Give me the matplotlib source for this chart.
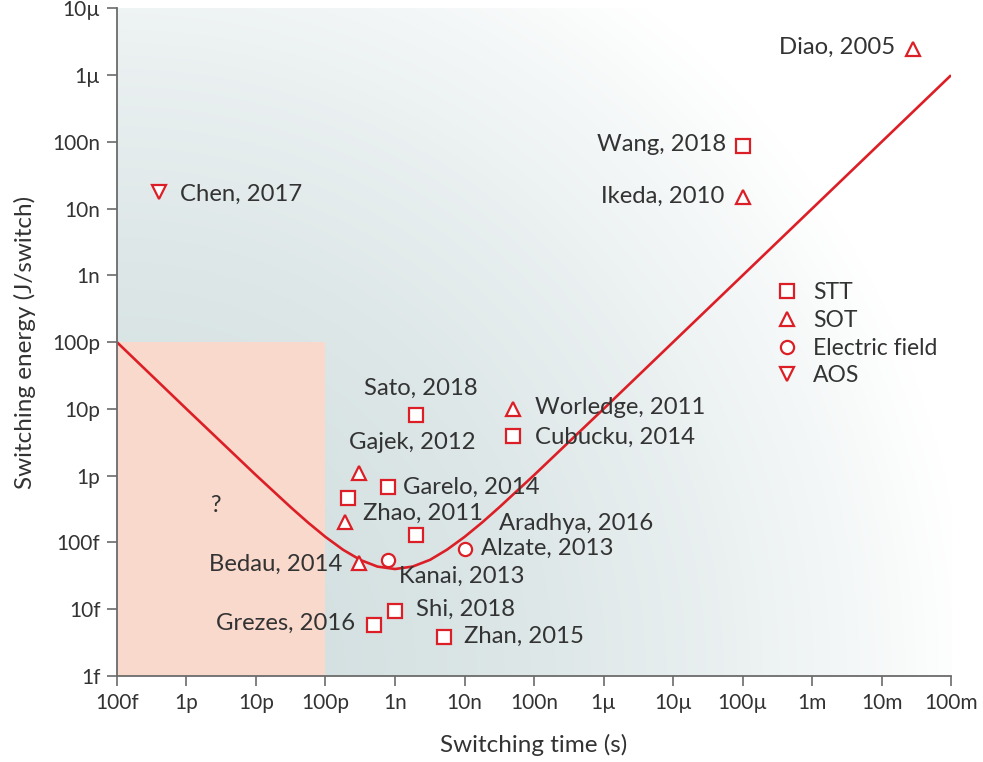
import numpy as np
import matplotlib
matplotlib.use("Agg")
import matplotlib.pyplot as plt
from matplotlib.lines import Line2D

plt.rcParams["font.family"] = ["Lato", "DejaVu Sans"]

RED = "#dc1f26"
TEXT = "#333333"
AXIS = "#6b6b6b"

# ideal switching curve (time s, energy J)
curve_t = [1e-13, 1e-12, 1e-11, 3.2e-11, 5.6e-11, 1e-10, 1.8e-10, 3.2e-10, 5.6e-10,
           1e-9, 1.8e-9, 3.2e-9, 5.6e-9, 1e-8, 1.8e-8, 3.2e-8, 1e-7, 1e-6, 1e-1]
curve_e = [1.0e-10, 1.0e-11, 1.02e-12, 3.33e-13, 1.99e-13, 1.21e-13, 7.74e-14, 5.45e-14, 4.35e-14,
           4.0e-14, 4.36e-14, 5.5e-14, 7.8e-14, 1.21e-13, 2.0e-13, 3.4e-13, 1.02e-12, 1.0e-11, 1.0e-6]

# reported devices
names = ["Wang, 2018", "Sato, 2018", "Cubucku, 2014", "Garelo, 2014", "", "Aradhya, 2016",
         "Shi, 2018", "Grezes, 2016", "Zhan, 2015",
         "Diao, 2005", "Ikeda, 2010", "Worledge, 2011", "Gajek, 2012", "Zhao, 2011", "Bedau, 2014",
         "Kanai, 2013", "Alzate, 2013",
         "Chen, 2017"]
times = [1e-4, 2e-9, 5e-8, 8e-10, 2.1e-10, 2e-9, 1e-9, 5e-10, 5e-9,
         2.8e-2, 1e-4, 5e-8, 3e-10, 1.9e-10, 3e-10,
         8e-10, 1e-8,
         4e-13]
energies = [8.7e-8, 8e-12, 4e-12, 6.8e-13, 4.7e-13, 1.3e-13, 9.3e-15, 5.8e-15, 3.8e-15,
            2.5e-6, 1.5e-8, 1e-11, 1.1e-12, 2e-13, 5e-14,
            5.5e-14, 8e-14,
            1.8e-8]
kinds = ["STT"] * 9 + ["SOT"] * 6 + ["Electric field"] * 2 + ["AOS"]

kind_order = ["STT", "SOT", "Electric field", "AOS"]
kind_marker = {"STT": "s", "SOT": "^", "Electric field": "o", "AOS": "v"}

# label placement relative to marker: (dx px, dy px, ha)
label_pos = {
    "Wang, 2018": (-16, 1, "right"), "Sato, 2018": (5, 27, "center"),
    "Cubucku, 2014": (22, -2, "left"), "Garelo, 2014": (15, 0, "left"),
    "Aradhya, 2016": (83, 11, "left"), "Shi, 2018": (21, 2, "left"),
    "Grezes, 2016": (-19, 2, "right"), "Zhan, 2015": (20, 1, "left"),
    "Diao, 2005": (-18, 1, "right"), "Ikeda, 2010": (-18, 1, "right"),
    "Worledge, 2011": (22, 1, "left"), "Gajek, 2012": (54, 30, "center"),
    "Zhao, 2011": (18, 9, "left"), "Bedau, 2014": (-16, -2, "right"),
    "Kanai, 2013": (11, -17, "left"), "Alzate, 2013": (16, 1, "left"),
    "Chen, 2017": (21, -3, "left"),
}

xticks = [1e-13, 1e-12, 1e-11, 1e-10, 1e-9, 1e-8, 1e-7, 1e-6, 1e-5, 1e-4, 1e-3, 1e-2, 1e-1]
xtick_labels = ["100f", "1p", "10p", "100p", "1n", "10n", "100n", "1µ", "10µ", "100µ", "1m", "10m", "100m"]
yticks = [1e-15, 1e-14, 1e-13, 1e-12, 1e-11, 1e-10, 1e-9, 1e-8, 1e-7, 1e-6, 1e-5]
ytick_labels = ["1f", "10f", "100f", "1p", "10p", "100p", "1n", "10n", "100n", "1µ", "10µ"]

fig = plt.figure(figsize=(9.83, 7.62), dpi=100)
rect = [0.119, 0.1129, 0.8485, 0.876]

# background gradient, darkest at the bottom-left corner
bg = fig.add_axes(rect, zorder=0)
W, H = 834, 667
xx, yy = np.meshgrid(np.arange(W), np.arange(H))
frac = np.clip(np.hypot(xx, yy) / 850.0, 0, 1) ** 1.8
dark = np.array([0xd1, 0xde, 0xdf]) / 255.0
img = dark[None, None, :] * (1 - frac[..., None]) + frac[..., None]
bg.imshow(img, origin="lower", extent=[0, 1, 0, 1], aspect="auto")
bg.axis("off")

ax = fig.add_axes(rect, zorder=1)
ax.patch.set_alpha(0)
ax.set_xscale("log")
ax.set_yscale("log")
ax.set_xlim(1e-13, 1e-1)
ax.set_ylim(1e-15, 1e-5)

ax.fill_between([1e-13, 1e-10], 1e-15, 1e-10, color="#f8d9cc", lw=0, zorder=1)
ax.plot(curve_t, curve_e, color=RED, lw=1.9, zorder=2, solid_capstyle="butt")

for k in kind_order:
    sel = [i for i, kk in enumerate(kinds) if kk == k]
    ax.plot([times[i] for i in sel], [energies[i] for i in sel], ls="none",
            marker=kind_marker[k], ms=9.5, mfc="white", mec=RED, mew=1.6, zorder=3)

for n, t, e in zip(names, times, energies):
    if not n:
        continue
    dx, dy, ha = label_pos[n]
    ax.annotate(n, (t, e), xytext=(dx, dy), textcoords="offset pixels",
                ha=ha, va="center", fontsize=17.2, color=TEXT, zorder=4)

ax.text(2.6e-12, 3.6e-13, "?", fontsize=17, color=TEXT, ha="center", va="center")

ax.set_xticks(xticks)
ax.set_xticklabels(xtick_labels)
ax.set_yticks(yticks)
ax.set_yticklabels(ytick_labels)
ax.minorticks_off()
ax.tick_params(axis="both", which="major", length=7, width=1.2, color=AXIS,
               labelsize=15, labelcolor=TEXT, pad=5)
for s in ("top", "right"):
    ax.spines[s].set_visible(False)
for s in ("left", "bottom"):
    ax.spines[s].set_color(AXIS)
    ax.spines[s].set_linewidth(1.3)

ax.set_xlabel("Switching time (s)", fontsize=17.5, color=TEXT, labelpad=15)
ax.set_ylabel("Switching energy (J/switch)", fontsize=17.5, color=TEXT, labelpad=12)

handles = [Line2D([], [], ls="none", marker=kind_marker[k], ms=9.5, mfc="white",
                  mec=RED, mew=1.6) for k in kind_order]
leg = ax.legend(handles, kind_order, loc="upper left", bbox_to_anchor=(0.767, 0.618),
                frameon=True, fontsize=16.5, handlelength=1.0, handletextpad=0.65,
                labelspacing=0.3, borderpad=0.3, labelcolor=TEXT)
leg.get_frame().set_facecolor("white")
leg.get_frame().set_edgecolor("none")
leg.get_frame().set_alpha(0.0)

fig.savefig("out.png", dpi=100)
